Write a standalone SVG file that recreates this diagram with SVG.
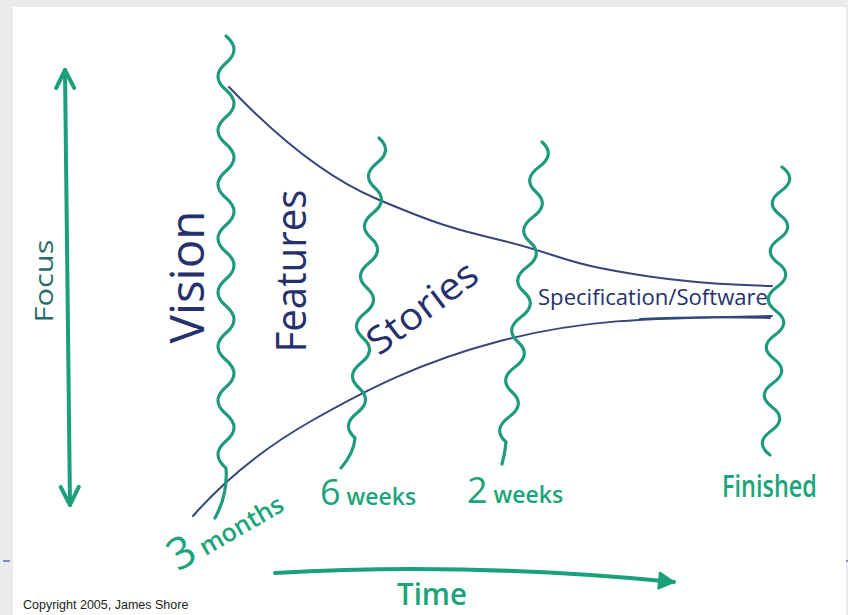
<svg xmlns="http://www.w3.org/2000/svg" width="848" height="615" viewBox="0 0 848 615">
  <defs>
    <style>
      .wave { fill: none; stroke: #1f9a7e; stroke-width: 3.2; stroke-linecap: round; stroke-linejoin: round; }
      .axis { fill: none; stroke: #1aa07a; stroke-width: 4; stroke-linecap: round; }
      .funnel { fill: none; stroke: #34467a; stroke-width: 2; stroke-linecap: round; }
      .hand { font-family: "Open Sans", "Liberation Sans", sans-serif; }
      .phase { fill: #25306c; }
      .mark { fill: #1ba47a; font-weight: 600; }
      .copy { font-family: "Liberation Sans", Arial, sans-serif; font-size: 12.5px; fill: #222222; }
    </style>
    <marker id="head-lg" viewBox="0 0 24 24" refX="20" refY="12" markerWidth="24" markerHeight="24" markerUnits="userSpaceOnUse" orient="auto-start-reverse">
      <path d="M 2 3 L 20 12 L 2 21" fill="none" stroke="#1aa07a" stroke-width="4" stroke-linecap="round" stroke-linejoin="round"/>
    </marker>
    <marker id="head-sm" viewBox="0 0 20 20" refX="17" refY="10" markerWidth="20" markerHeight="20" markerUnits="userSpaceOnUse" orient="auto">
      <path d="M 2 2 L 17 10 L 2 18 Z" fill="#1aa07a" stroke="#1aa07a" stroke-width="2" stroke-linejoin="round"/>
    </marker>
  </defs>

  <!-- page frame -->
  <g id="frame">
    <rect x="0" y="0" width="848" height="615" fill="#ebebeb"/>
    <rect x="13" y="7" width="833" height="608" fill="#ffffff"/>
    <line x1="3" y1="561" x2="10" y2="561" stroke="#5b6fb0" stroke-width="1.5"/>
    <line x1="846" y1="561" x2="848" y2="561" stroke="#5b6fb0" stroke-width="1.5"/>
  </g>

  <!-- focus axis -->
  <g id="axis-focus">
    <path class="axis" d="M 65 70 Q 67 300 70 505" marker-start="url(#head-lg)" marker-end="url(#head-lg)"/>
    <text class="hand" transform="translate(53,281) rotate(-90)" text-anchor="middle" font-size="26" textLength="83" lengthAdjust="spacingAndGlyphs" fill="#2b6a6b">Focus</text>
  </g>

  <!-- time axis -->
  <g id="axis-time">
    <path class="axis" d="M 275 573 Q 470 562 674 582" marker-end="url(#head-sm)"/>
    <text class="hand mark" x="432" y="605" text-anchor="middle" font-size="30" font-weight="400" textLength="70" lengthAdjust="spacingAndGlyphs">Time</text>
  </g>

  <!-- funnel boundaries -->
  <g id="connectors">
    <path class="funnel" d="M 229 87 C 270 130 320 175 377 199 S 450 228 500 240 S 560 260 600 268 S 690 284 772 286"/>
    <path class="funnel" d="M 193 516 C 220 485 260 450 313 420 S 420 362 500 341 S 640 318 772 316"/>
    <path class="funnel" d="M 640 319 Q 700 316 770 318" stroke-width="1.4"/>
  </g>

  <!-- milestone: 3 months -->
  <g id="milestone-3-months">
    <path class="wave" d="M 226 36 q 16 13.5 0 27 t 0 27 t 0 27 t 0 27 t 0 27 t 0 27 t 0 27 t 0 27 t 0 27 t 0 27 t 0 27 t 0 27 t 0 27 t 0 27 t 0 27 t 0 27 q 2 26 -11 50"/>
    <text class="hand mark" transform="translate(178,572) rotate(-30)" font-size="25"><tspan font-size="44" font-weight="400">3</tspan> months</text>
  </g>

  <!-- milestone: 6 weeks -->
  <g id="milestone-6-weeks">
    <path class="wave" d="M 379 138 q 14 12.5 -2 25 t -2 25 t -2 25 t -2 25 t -2 25 t -2 25 t -2 25 t -2 25 t -2 25 t -2 25 t -2 25 t -2 25 q -1 15 -14 30"/>
    <text class="hand mark" x="320" y="505" font-size="23"><tspan font-size="36" font-weight="400">6</tspan> weeks</text>
  </g>

  <!-- milestone: 2 weeks -->
  <g id="milestone-2-weeks">
    <path class="wave" d="M 542 142 q 14 12.5 -3 25 t -3 25 t -3 25 t -3 25 t -3 25 t -3 25 t -3 25 t -3 25 t -3 25 t -3 25 t -3 25 t -3 25 q -1 12 -4 22"/>
    <text class="hand mark" x="467" y="503" font-size="23"><tspan font-size="36" font-weight="400">2</tspan> weeks</text>
  </g>

  <!-- milestone: finished -->
  <g id="milestone-finished">
    <path class="wave" d="M 782 167 q 16 12 -1 24 t -1 24 t -1 24 t -1 24 t -1 24 t -1 24 t -1 24 t -1 24 t -1 24 t -1 24 t -1 24 t -1 24"/>
    <text class="hand mark" x="722" y="497" font-size="30" textLength="95" lengthAdjust="spacingAndGlyphs">Finished</text>
  </g>

  <!-- phase labels -->
  <g id="phase-vision">
    <text class="hand phase" transform="translate(204,277) rotate(-90)" text-anchor="middle" font-size="48" textLength="133" lengthAdjust="spacingAndGlyphs">Vision</text>
  </g>
  <g id="phase-features">
    <text class="hand phase" transform="translate(306,271) rotate(-90)" text-anchor="middle" font-size="42" textLength="163" lengthAdjust="spacingAndGlyphs">Features</text>
  </g>
  <g id="phase-stories">
    <text class="hand phase" transform="translate(430,318) rotate(-37)" text-anchor="middle" font-size="38" textLength="128" lengthAdjust="spacingAndGlyphs">Stories</text>
  </g>
  <g id="phase-specification">
    <text class="hand phase" x="538" y="305" font-size="21" textLength="230" lengthAdjust="spacingAndGlyphs">Specification/Software</text>
  </g>

  <text class="copy" x="23" y="609">Copyright 2005, James Shore</text>
</svg>
